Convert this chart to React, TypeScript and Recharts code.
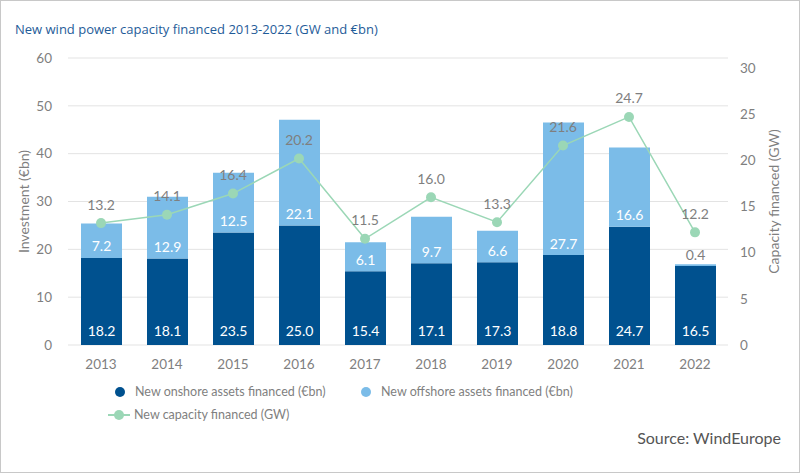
import { ComposedChart, Bar, Line, XAxis, YAxis, CartesianGrid, LabelList } from 'recharts'

const years = ['2013', '2014', '2015', '2016', '2017', '2018', '2019', '2020', '2021', '2022']
const onshore = [18.2, 18.1, 23.5, 25.0, 15.4, 17.1, 17.3, 18.8, 24.7, 16.5]
const offshore = [7.2, 12.9, 12.5, 22.1, 6.1, 9.7, 6.6, 27.7, 16.6, 0.4]
const capacity = [13.2, 14.1, 16.4, 20.2, 11.5, 16.0, 13.3, 21.6, 24.7, 12.2]
const leftTicks = [0, 10, 20, 30, 40, 50, 60]
const rightTicks = [0, 5, 10, 15, 20, 25, 30]

const data = years.map((year, i) => ({
  year,
  onshore: onshore[i],
  offshore: offshore[i],
  capacity: capacity[i],
}))

const DARK = '#00518f'
const LIGHT = '#7bbce8'
const GREEN = '#9bd7b6'
const GREY = '#7f7f7f'
const FONT = 'Lato, "Open Sans", sans-serif'

const BarBottomLabel = (props: any) => {
  const { x, y, width, height, value } = props
  return (
    <text x={x + width / 2} y={y + height - 13} fill="#fff" fontSize={14} textAnchor="middle" dominantBaseline="middle" fontFamily={FONT}>
      {Number(value).toFixed(1)}
    </text>
  )
}

const OffshoreLabel = (props: any) => {
  const { x, y, width, height, value } = props
  const bottom = y + height
  return (
    <text x={x + width / 2} y={bottom - 10} fill={value < 1 ? GREY : '#fff'} fontSize={14} textAnchor="middle" dominantBaseline="middle" fontFamily={FONT}>
      {Number(value).toFixed(1)}
    </text>
  )
}

const LineLabel = (props: any) => {
  const { x, y, value } = props
  return (
    <text x={x} y={y - 17} fill={GREY} fontSize={14} textAnchor="middle" dominantBaseline="middle" fontFamily={FONT}>
      {Number(value).toFixed(1)}
    </text>
  )
}

function LegendRow() {
  const item = { display: 'flex', alignItems: 'center', position: 'absolute' as const, fontSize: 12.5, color: GREY, fontFamily: FONT, whiteSpace: 'nowrap' as const }
  const dot = (c: string) => ({ width: 10, height: 10, borderRadius: 5, background: c, marginRight: 10 })
  return (
    <>
      <div style={{ ...item, left: 114, top: 383 }}>
        <div style={dot(DARK)} />
        New onshore assets financed (€bn)
      </div>
      <div style={{ ...item, left: 360, top: 383 }}>
        <div style={dot(LIGHT)} />
        New offshore assets financed (€bn)
      </div>
      <div style={{ ...item, left: 107, top: 406 }}>
        <svg width={22} height={10} style={{ marginRight: 4 }}>
          <line x1={0} y1={5} x2={22} y2={5} stroke={GREEN} strokeWidth={2} />
          <circle cx={11} cy={5} r={5} fill={GREEN} />
        </svg>
        New capacity financed (GW)
      </div>
    </>
  )
}

export default function App() {
  return (
    <div style={{ position: 'absolute', left: 0, top: 0, width: 798, height: 471, border: '1px solid #c8c8c8', background: '#fff' }}>
      <div style={{ position: 'absolute', left: 14, top: 19, fontSize: 13, color: '#1f5c99', fontFamily: '"Open Sans", sans-serif' }}>
        New wind power capacity financed 2013-2022 (GW and €bn)
      </div>
      <div style={{ position: 'absolute', left: -1, top: -1 }}>
        <ComposedChart width={800} height={473} data={data} margin={{ top: 58, right: 12, bottom: 98, left: 8 }} barSize={41}>
          <CartesianGrid vertical={false} stroke="#e3e3e3" yAxisId="left" />
          <XAxis dataKey="year" axisLine={false} tickLine={false} tick={{ fill: GREY, fontSize: 13.5, fontFamily: FONT }} height={30} tickMargin={8} />
          <YAxis
            yAxisId="left"
            domain={[0, 60]}
            ticks={leftTicks}
            axisLine={false}
            tickLine={false}
            width={60}
            tickMargin={10}
            tick={{ fill: GREY, fontSize: 13.5, fontFamily: FONT }}
            label={{ value: 'Investment (€bn)', angle: -90, position: 'insideLeft', offset: 16, style: { fill: GREY, fontSize: 14, fontFamily: FONT, textAnchor: 'middle' } }}
          />
          <YAxis
            yAxisId="right"
            orientation="right"
            domain={[0, 31.08]}
            ticks={rightTicks}
            axisLine={false}
            tickLine={false}
            width={60}
            tickMargin={6}
            tick={{ fill: GREY, fontSize: 13.5, fontFamily: FONT }}
            label={{ value: 'Capacity financed (GW)', angle: -90, position: 'insideRight', offset: 14, style: { fill: GREY, fontSize: 14, fontFamily: FONT, textAnchor: 'middle' } }}
          />
          <Bar yAxisId="left" dataKey="onshore" stackId="a" fill={DARK} isAnimationActive={false}>
            <LabelList dataKey="onshore" content={BarBottomLabel} />
          </Bar>
          <Bar yAxisId="left" dataKey="offshore" stackId="a" fill={LIGHT} isAnimationActive={false}>
            <LabelList dataKey="offshore" content={OffshoreLabel} />
          </Bar>
          <Line
            yAxisId="right"
            dataKey="capacity"
            stroke={GREEN}
            strokeWidth={1.5}
            dot={{ r: 5, fill: GREEN, stroke: GREEN, strokeWidth: 0 }}
            isAnimationActive={false}
          >
            <LabelList dataKey="capacity" content={LineLabel} />
          </Line>
        </ComposedChart>
      </div>
      <LegendRow />
      <div style={{ position: 'absolute', right: 18, top: 427, fontSize: 16, color: '#555', fontFamily: FONT }}>Source: WindEurope</div>
    </div>
  )
}
